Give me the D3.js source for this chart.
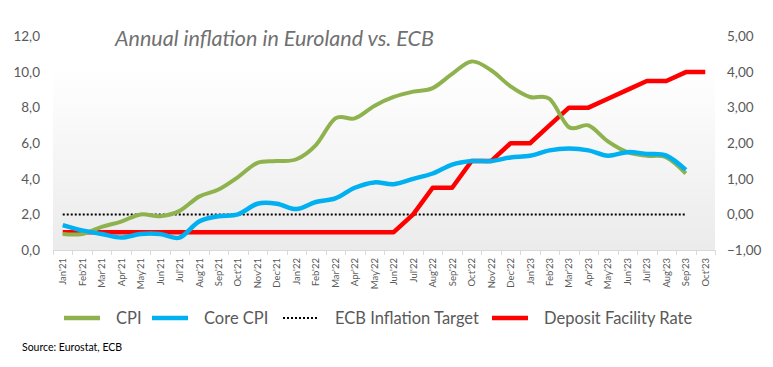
<!DOCTYPE html>
<html>
<head>
<meta charset="utf-8">
<script src="https://cdn.jsdelivr.net/npm/d3@7"></script>
<style>
  body { margin: 0; background: #fff; }
  svg { display: block; font-family: Lato, "Open Sans", sans-serif; }
</style>
</head>
<body>
<div id="chart"></div>
<script>
const months = ["Jan'21","Feb'21","Mar'21","Apr'21","May'21","Jun'21","Jul'21","Aug'21","Sep'21","Oct'21","Nov'21","Dec'21",
  "Jan'22","Feb'22","Mar'22","Apr'22","May'22","Jun'22","Jul'22","Aug'22","Sep'22","Oct'22","Nov'22","Dec'22",
  "Jan'23","Feb'23","Mar'23","Apr'23","May'23","Jun'23","Jul'23","Aug'23","Sep'23","Oct'23"];

// annual HICP, % (left axis)
const cpi = [0.9,0.9,1.3,1.6,2.0,1.9,2.2,3.0,3.4,4.1,4.9,5.0,
  5.1,5.9,7.4,7.4,8.1,8.6,8.9,9.1,9.9,10.6,10.1,9.2,
  8.6,8.5,6.9,7.0,6.1,5.5,5.3,5.2,4.3];

const coreCpi = [1.4,1.1,0.9,0.7,0.9,0.9,0.7,1.6,1.9,2.0,2.6,2.6,
  2.3,2.7,2.9,3.5,3.8,3.7,4.0,4.3,4.8,5.0,5.0,5.2,
  5.3,5.6,5.7,5.6,5.3,5.5,5.4,5.3,4.5];

// ECB deposit facility rate, % (right axis)
const depositRate = [-0.5,-0.5,-0.5,-0.5,-0.5,-0.5,-0.5,-0.5,-0.5,-0.5,-0.5,-0.5,
  -0.5,-0.5,-0.5,-0.5,-0.5,-0.5,0.0,0.75,0.75,1.5,1.5,2.0,
  2.0,2.5,3.0,3.0,3.25,3.5,3.75,3.75,4.0,4.0];

const inflationTarget = 2.0;
const leftTicks = [0, 2, 4, 6, 8, 10, 12];
const rightTicks = [-1, 0, 1, 2, 3, 4, 5];

const W = 773, H = 367;
const plot = { left: 53, right: 715, top: 36.5, bottom: 250 };

const svg = d3.select("#chart").append("svg")
  .attr("width", W).attr("height", H);

const comma = d3.formatLocale({ decimal: ",", thousands: ".", grouping: [3], currency: ["", "€"] });
const fmt1 = comma.format(".1f");
const fmt2 = comma.format(".2f");

const x = d3.scaleBand().domain(months).range([plot.left, plot.right]).padding(0);
const cx = (d) => x(d) + x.bandwidth() / 2;
const yL = d3.scaleLinear().domain([0, 12]).range([plot.bottom, plot.top]);
const yR = d3.scaleLinear().domain([-1, 5]).range([plot.bottom, plot.top]);

// plot background gradient
const defs = svg.append("defs");
const grad = defs.append("linearGradient").attr("id", "bg")
  .attr("x1", 0).attr("y1", 0).attr("x2", 0).attr("y2", 1);
grad.append("stop").attr("offset", "0%").attr("stop-color", "#ffffff");
grad.append("stop").attr("offset", "15%").attr("stop-color", "#ffffff");
grad.append("stop").attr("offset", "100%").attr("stop-color", "#ebebeb");

svg.append("rect")
  .attr("x", plot.left).attr("y", plot.top)
  .attr("width", plot.right - plot.left).attr("height", plot.bottom - plot.top)
  .attr("fill", "url(#bg)");

// title
svg.append("text")
  .attr("x", 115).attr("y", 46)
  .style("font-size", "21.5px").style("font-style", "italic")
  .style("fill", "#707070")
  .text("Annual inflation in Euroland vs. ECB");

// left axis labels
svg.append("g").selectAll("text").data(leftTicks).join("text")
  .attr("x", 40).attr("y", (d) => yL(d)).attr("dy", "0.35em")
  .attr("text-anchor", "end")
  .style("font-size", "13.5px").style("fill", "#595959")
  .text((d) => fmt1(d));

// right axis labels
svg.append("g").selectAll("text").data(rightTicks).join("text")
  .attr("x", 727).attr("y", (d) => yR(d)).attr("dy", "0.35em")
  .attr("text-anchor", "start")
  .style("font-size", "13.5px").style("fill", "#595959")
  .text((d) => fmt2(d));

// x axis: line, boundary ticks, rotated labels
const xAxis = svg.append("g");
xAxis.append("line")
  .attr("x1", plot.left).attr("x2", plot.right)
  .attr("y1", plot.bottom + 0.5).attr("y2", plot.bottom + 0.5)
  .attr("stroke", "#d9d9d9");
xAxis.selectAll(".tick").data(months.concat(["end"])).join("line")
  .attr("class", "tick")
  .attr("x1", (d, i) => Math.round(plot.left + i * x.bandwidth()) + 0.5)
  .attr("x2", (d, i) => Math.round(plot.left + i * x.bandwidth()) + 0.5)
  .attr("y1", plot.bottom).attr("y2", plot.bottom + 5)
  .attr("stroke", "#d9d9d9");
xAxis.selectAll(".lbl").data(months).join("text")
  .attr("class", "lbl")
  .attr("transform", (d) => `translate(${cx(d) + 3.5},258) rotate(-90)`)
  .attr("text-anchor", "end")
  .style("font-size", "9.5px").style("fill", "#595959")
  .text((d) => d);

// ECB target
svg.append("line")
  .attr("x1", cx(months[0])).attr("x2", cx(months[cpi.length - 1]))
  .attr("y1", yL(inflationTarget)).attr("y2", yL(inflationTarget))
  .attr("stroke", "#000").attr("stroke-width", 2)
  .attr("stroke-dasharray", "2,2");

const smooth = d3.curveCatmullRom.alpha(0);

// deposit rate
svg.append("path")
  .datum(depositRate)
  .attr("fill", "none").attr("stroke", "#ff0000").attr("stroke-width", 4.5)
  .attr("stroke-linejoin", "round")
  .attr("d", d3.line().x((d, i) => cx(months[i])).y((d) => yR(d)));

// CPI
svg.append("path")
  .datum(cpi)
  .attr("fill", "none").attr("stroke", "#8eb24e").attr("stroke-width", 4)
  .attr("d", d3.line().curve(smooth).x((d, i) => cx(months[i])).y((d) => yL(d)));

// core CPI
svg.append("path")
  .datum(coreCpi)
  .attr("fill", "none").attr("stroke", "#00b0f0").attr("stroke-width", 4.5)
  .attr("d", d3.line().curve(smooth).x((d, i) => cx(months[i])).y((d) => yL(d)));

// legend
const legendItems = [
  { name: "CPI", color: "#8eb24e", x: 64, dash: null, w: 4.5 },
  { name: "Core CPI", color: "#00b0f0", x: 152, dash: null, w: 4.5 },
  { name: "ECB Inflation Target", color: "#000", x: 283, dash: "2,2", w: 2 },
  { name: "Deposit Facility Rate", color: "#ff0000", x: 492, dash: null, w: 4.5 },
];
const legend = svg.append("g");
legendItems.forEach((d) => {
  legend.append("line")
    .attr("x1", d.x).attr("x2", d.x + 36).attr("y1", 318).attr("y2", 318)
    .attr("stroke", d.color).attr("stroke-width", d.w)
    .attr("stroke-dasharray", d.dash);
  legend.append("text")
    .attr("x", d.x + 52).attr("y", 318).attr("dy", "0.35em")
    .style("font-size", "16.5px").style("fill", "#595959")
    .text(d.name);
});

// source
svg.append("text")
  .attr("x", 22).attr("y", 347).attr("dy", "0.35em")
  .style("font-size", "10.5px").style("fill", "#000")
  .text("Source: Eurostat, ECB");
</script>
</body>
</html>
